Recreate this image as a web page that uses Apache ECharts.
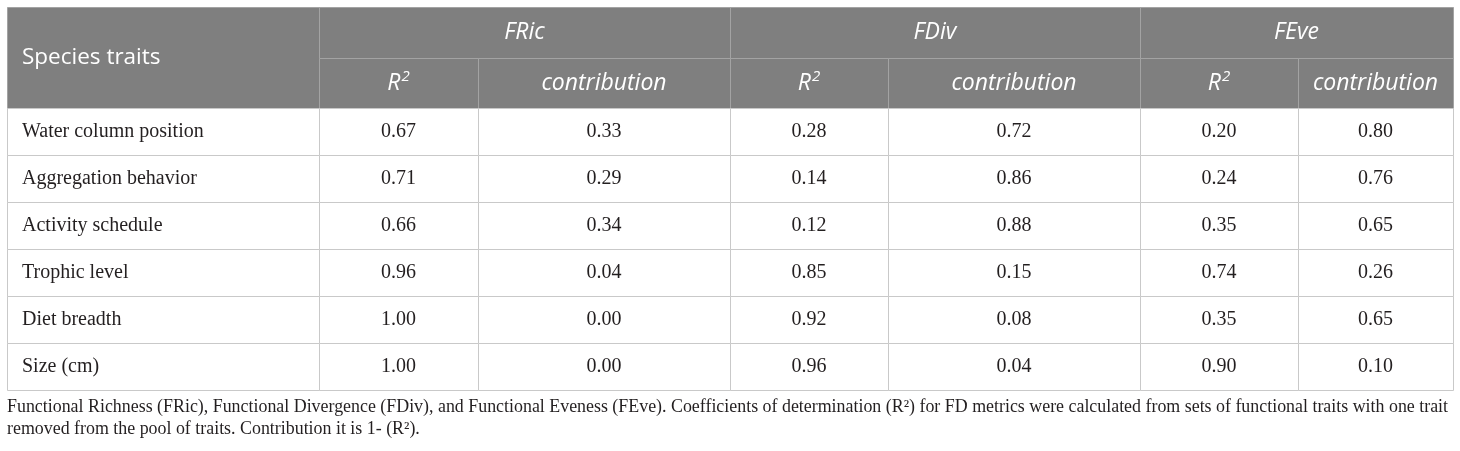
<!DOCTYPE html>
<html><head><meta charset="utf-8">
<script src="https://cdn.jsdelivr.net/npm/echarts@6/dist/echarts.min.js"></script>
<style>html,body{margin:0;padding:0;background:#fff}#c{width:1460px;height:451px}</style>
</head><body><div id="c"></div>
<script>
// ---------- data ----------
const traits = ['Water column position','Aggregation behavior','Activity schedule','Trophic level','Diet breadth','Size (cm)'];
const cornerLabel = 'Species traits';
const metrics = ['FRic','FDiv','FEve'];
const subHeaders = ['{r|R}{s|2}','contribution'];
const fricR2 = [0.67,0.71,0.66,0.96,1.00,1.00];
const fricContribution = [0.33,0.29,0.34,0.04,0.00,0.00];
const fdivR2 = [0.28,0.14,0.12,0.85,0.92,0.96];
const fdivContribution = [0.72,0.86,0.88,0.15,0.08,0.04];
const feveR2 = [0.20,0.24,0.35,0.74,0.35,0.90];
const feveContribution = [0.80,0.76,0.65,0.26,0.65,0.10];
const footnoteLines = [
  'Functional Richness (FRic), Functional Divergence (FDiv), and Functional Eveness (FEve). Coefficients of determination (R²) for FD metrics were calculated from sets of functional traits with one trait',
  'removed from the pool of traits. Contribution it is 1- (R²).'
];

// ---------- layout ----------
const colEdges = [7,319,478,730,888,1140,1298,1453];
const rowEdges = [7,58,108,155,202,249,296,343,390];
const HEAD_BG = '#7f7f7f', HEAD_LINE = '#a3a3a3', BODY_LINE = '#c9c9c9';
const HEAD_FONT = '"Open Sans", sans-serif', BODY_FONT = '"Liberation Serif", "DejaVu Serif", serif';
const headRich = {
  r:{fontFamily:HEAD_FONT, fontStyle:'italic', fontSize:23, lineHeight:28, fill:'#ffffff', color:'#ffffff'},
  s:{fontFamily:HEAD_FONT, fontStyle:'italic', fontSize:15, lineHeight:15, verticalAlign:'top', fill:'#ffffff', color:'#ffffff', padding:[0,0,0,1]}
};

// ---------- cells ----------
const cells = [];
cells.push({c0:0,c1:1,r0:0,r1:2,text:cornerLabel,kind:'corner'});
metrics.forEach((m,i)=>{
  cells.push({c0:1+2*i,c1:3+2*i,r0:0,r1:1,text:m,kind:'head'});
  subHeaders.forEach((s,j)=>cells.push({c0:1+2*i+j,c1:2+2*i+j,r0:1,r1:2,text:s,kind:'head'}));
});
const valueCols = [fricR2,fricContribution,fdivR2,fdivContribution,feveR2,feveContribution];
traits.forEach((t,r)=>{
  cells.push({c0:0,c1:1,r0:2+r,r1:3+r,text:t,kind:'label'});
  valueCols.forEach((arr,c)=>cells.push({c0:1+c,c1:2+c,r0:2+r,r1:3+r,text:arr[r].toFixed(2),kind:'value'}));
});

function renderItem(params, api){
  const cell = cells[params.dataIndex];
  const p0 = api.coord([colEdges[cell.c0], rowEdges[cell.r0]]);
  const p1 = api.coord([colEdges[cell.c1], rowEdges[cell.r1]]);
  const isHead = cell.kind==='head' || cell.kind==='corner';
  const left = cell.kind==='corner' || cell.kind==='label';
  const tx = left ? p0[0]+15 : (p0[0]+p1[0])/2;
  const ty = (p0[1]+p1[1])/2;
  const textStyle = {text:cell.text, x:tx, y:ty, align:left?'left':'center', verticalAlign:'middle',
      fill:isHead?'#ffffff':'#231f20',
      fontFamily:isHead?HEAD_FONT:BODY_FONT,
      fontStyle:cell.kind==='head'?'italic':'normal',
      fontSize:cell.kind==='head'?23:(cell.kind==='corner'?22.5:20)};
  if (cell.text.indexOf('{')===0) textStyle.rich = headRich;
  return {type:'group', children:[
    {type:'rect', shape:{x:Math.round(p0[0])+0.5, y:Math.round(p0[1])+0.5, width:p1[0]-p0[0], height:p1[1]-p0[1]},
     style:{fill:isHead?HEAD_BG:'#ffffff', stroke:isHead?HEAD_LINE:BODY_LINE, lineWidth:1}},
    {type:'text', style:textStyle}
  ]};
}

const chart = echarts.init(document.getElementById('c'), null, {renderer:'canvas'});
chart.setOption({
  animation:false,
  grid:{left:0,right:0,top:0,bottom:0},
  xAxis:{type:'value',min:0,max:1460,show:false},
  yAxis:{type:'value',min:0,max:451,inverse:true,show:false},
  series:[{type:'custom', clip:false, renderItem, data:cells.map(c=>[colEdges[c.c0],rowEdges[c.r0]])}],
  graphic:footnoteLines.map((t,i)=>({type:'text', left:7, top:398+i*22,
    style:{text:t, fill:'#231f20', fontFamily:BODY_FONT, fontSize:17.9}}))
});
</script></body></html>
